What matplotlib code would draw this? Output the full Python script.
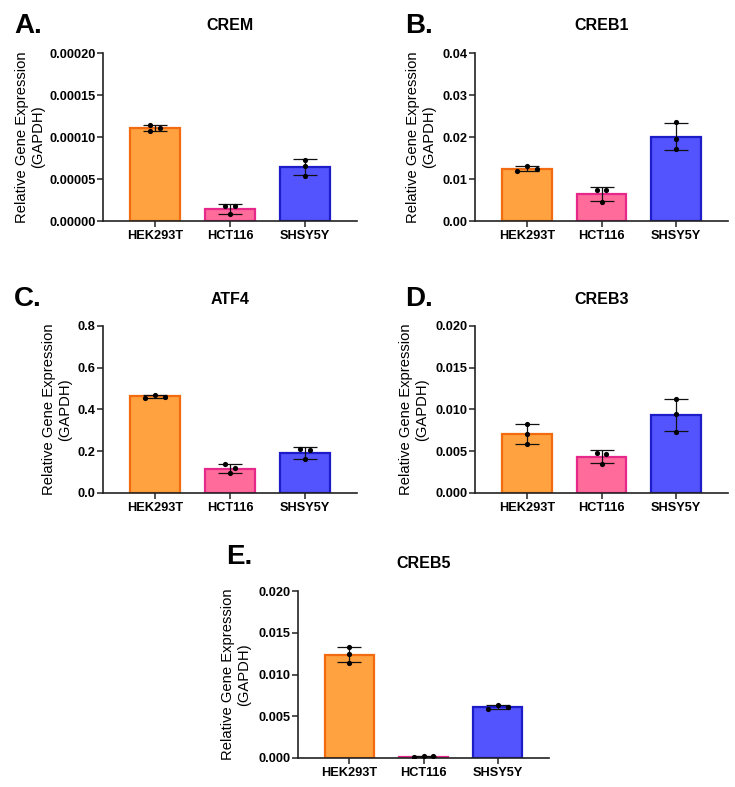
import numpy as np
import matplotlib
matplotlib.use("Agg")
import matplotlib.pyplot as plt

plt.rcParams['font.family'] = ['Liberation Sans', 'DejaVu Sans']
plt.rcParams['font.weight'] = 'bold'

# ---------------- data ----------------
cell_lines = ["HEK293T", "HCT116", "SHSY5Y"]
panel_letters = ["A.", "B.", "C.", "D.", "E."]
genes = ["CREM", "CREB1", "ATF4", "CREB3", "CREB5"]

crem = [[0.0001146, 0.0001068, 0.0001104],
        [0.0000175, 0.0000175, 0.0000080],
        [0.0000730, 0.0000658, 0.0000539]]
creb1 = [[0.01187, 0.01307, 0.01235],
         [0.00749, 0.00733, 0.00446],
         [0.02364, 0.01952, 0.01714]]
atf4 = [[0.4551, 0.4711, 0.4615],
        [0.1373, 0.1182, 0.0958],
        [0.2108, 0.2044, 0.1613]]
creb3 = [[0.00830, 0.00707, 0.00591],
         [0.00483, 0.00471, 0.00343],
         [0.01122, 0.00950, 0.00731]]
creb5 = [[0.01329, 0.01242, 0.01142],
         [0.00015, 0.00020, 0.00018],
         [0.00583, 0.00639, 0.00607]]

y_ticks = [
    [0.0, 0.00005, 0.00010, 0.00015, 0.00020],
    [0.0, 0.01, 0.02, 0.03, 0.04],
    [0.0, 0.2, 0.4, 0.6, 0.8],
    [0.0, 0.005, 0.010, 0.015, 0.020],
    [0.0, 0.005, 0.010, 0.015, 0.020],
]
y_tick_labels = [
    ["0.00000", "0.00005", "0.00010", "0.00015", "0.00020"],
    ["0.00", "0.01", "0.02", "0.03", "0.04"],
    ["0.0", "0.2", "0.4", "0.6", "0.8"],
    ["0.000", "0.005", "0.010", "0.015", "0.020"],
    ["0.000", "0.005", "0.010", "0.015", "0.020"],
]
datasets = [crem, creb1, atf4, creb3, creb5]

# ---------------- style / layout ----------------
fill_colors = ["#FFA23F", "#FF6B9B", "#5454FF"]
edge_colors = ["#F26B10", "#E5288A", "#1C1CC8"]

# horizontal dot spread (in steps) for each point, per panel / group
spreads = [
    [[-1, -1, 1], [-1, 1, 0], [0, 0, 0]],
    [[-2, 0, 2], [-1, 1, 0], [0, 0, 0]],
    [[-2, 0, 2], [-1, 1, 0], [-1, 1, 0]],
    [[0, 0, 0], [-1, 1, 0], [0, 0, 0]],
    [[0, 0, 0], [-2, 0, 2], [-2, 0, 2]],
]
step = 5.0 / 75.0

W, H = 735, 787
# axes boxes in pixels: left, top, right, bottom
boxes = [
    (103, 53, 357, 221),
    (475, 53, 728, 221),
    (103, 326, 357, 493),
    (475, 326, 728, 493),
    (298, 591, 549, 758),
]
ylabel_x = [30, 421, 57, 414, 236]
letter_pos = [(14, 26), (405, 26), (14, 299), (405, 299), (226, 557)]

fig = plt.figure(figsize=(W / 100, H / 100), dpi=100)
fig.patch.set_facecolor("white")

for i in range(5):
    l, t, r, b = boxes[i]
    ax = fig.add_axes([l / W, 1 - b / H, (r - l) / W, (b - t) / H])
    data = datasets[i]
    x = np.arange(len(cell_lines))
    means = [np.mean(g) for g in data]
    sds = [np.std(g, ddof=1) for g in data]
    ax.bar(x, means, width=0.667, color=fill_colors, edgecolor=edge_colors,
           linewidth=1.6, zorder=2)
    ax.errorbar(x, means, yerr=sds, fmt="none", ecolor="#111111",
                elinewidth=0.9, capsize=8.5, capthick=0.9, zorder=3)
    for j, g in enumerate(data):
        xs = [x[j] + s * step for s in spreads[i][j]]
        ax.scatter(xs, g, s=14, color="black", zorder=4, linewidths=0)

    ax.set_xlim(-0.693, 2.693)
    ax.set_ylim(0, y_ticks[i][-1])
    ax.set_yticks(y_ticks[i])
    ax.set_yticklabels(y_tick_labels[i])
    ax.set_xticks(x)
    ax.set_xticklabels(cell_lines)
    for sp in ["top", "right"]:
        ax.spines[sp].set_visible(False)
    for sp in ["left", "bottom"]:
        ax.spines[sp].set_linewidth(1.2)
        ax.spines[sp].set_color("#222222")
    ax.tick_params(axis="both", direction="out", length=4, width=1.1,
                   color="#222222", labelsize=9.2)
    ax.tick_params(axis="y", pad=1.2)
    ax.tick_params(axis="x", pad=2.5)
    for lab in ax.get_xticklabels() + ax.get_yticklabels():
        lab.set_fontweight("bold")

    # title
    fig.text(((l + r) / 2) / W, 1 - (t - 27) / H, genes[i], ha="center",
             va="center", fontsize=11.5, fontweight="bold")
    # y label
    fig.text(ylabel_x[i] / W, 1 - ((t + b) / 2) / H,
             "Relative Gene Expression\n(GAPDH)", rotation=90, ha="center",
             va="center", multialignment="center", fontsize=10.6,
             fontweight="normal", linespacing=1.12)
    # panel letter
    lx, ly = letter_pos[i]
    fig.text(lx / W, 1 - ly / H, panel_letters[i], ha="left", va="center",
             fontsize=20, fontweight="bold")

fig.savefig("out.png", dpi=100, facecolor="white")
